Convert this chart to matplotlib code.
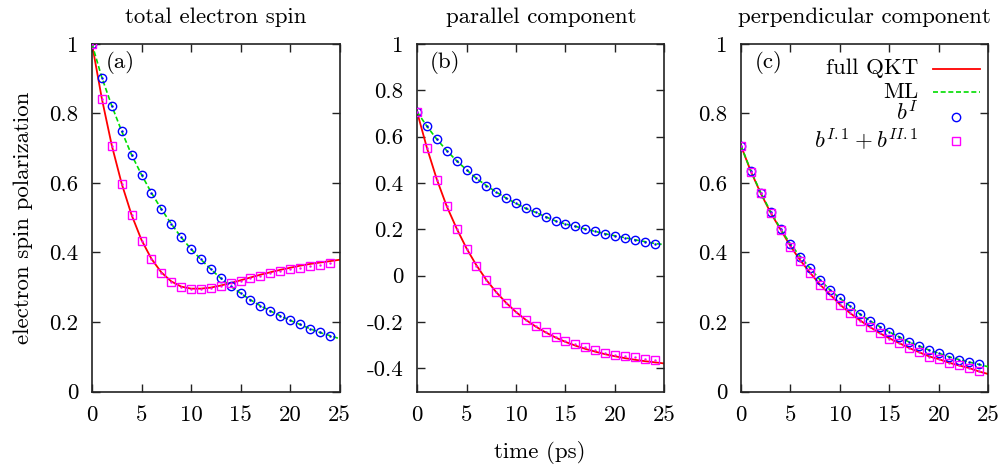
import numpy as np
import matplotlib
matplotlib.use("Agg")
import matplotlib.pyplot as plt

# time axis (ps)
t_line = list(range(0, 26))
t_pts = list(range(0, 25))

# panel (a): total electron spin
a_qkt = [1.0, 0.842, 0.708, 0.598, 0.508, 0.436, 0.382, 0.343, 0.317, 0.302, 0.296, 0.296, 0.299,
         0.305, 0.312, 0.320, 0.328, 0.336, 0.343, 0.350, 0.356, 0.362, 0.367, 0.371, 0.375, 0.379]
a_ml = [1.0, 0.903, 0.822, 0.749, 0.681, 0.624, 0.572, 0.525, 0.483, 0.444, 0.410, 0.380, 0.352,
        0.326, 0.303, 0.283, 0.264, 0.247, 0.232, 0.218, 0.205, 0.193, 0.181, 0.170, 0.161, 0.152]
a_bI = [1.0, 0.903, 0.822, 0.749, 0.681, 0.624, 0.572, 0.525, 0.483, 0.444, 0.410, 0.380, 0.352,
        0.326, 0.305, 0.284, 0.263, 0.246, 0.232, 0.217, 0.206, 0.193, 0.180, 0.170, 0.160]
a_bII = [1.0, 0.841, 0.707, 0.597, 0.507, 0.434, 0.380, 0.342, 0.316, 0.302, 0.295, 0.295, 0.298,
         0.304, 0.311, 0.319, 0.327, 0.333, 0.340, 0.347, 0.352, 0.356, 0.361, 0.365, 0.369]

# panel (b): parallel component
b_qkt = [0.708, 0.552, 0.416, 0.300, 0.204, 0.118, 0.045, -0.018, -0.071, -0.117, -0.157, -0.191,
         -0.220, -0.245, -0.267, -0.286, -0.302, -0.316, -0.328, -0.339, -0.348, -0.356, -0.363,
         -0.369, -0.374, -0.379]
b_ml = [0.708, 0.645, 0.589, 0.540, 0.496, 0.457, 0.420, 0.389, 0.361, 0.335, 0.312, 0.290, 0.273,
        0.254, 0.236, 0.223, 0.213, 0.201, 0.191, 0.181, 0.172, 0.164, 0.155, 0.147, 0.139, 0.134]
b_bI = [0.708, 0.645, 0.589, 0.540, 0.496, 0.457, 0.420, 0.389, 0.361, 0.335, 0.312, 0.290, 0.273,
        0.254, 0.234, 0.224, 0.213, 0.201, 0.191, 0.181, 0.172, 0.164, 0.155, 0.147, 0.138]
b_bII = [0.708, 0.550, 0.414, 0.299, 0.201, 0.116, 0.043, -0.020, -0.072, -0.118, -0.157, -0.190,
         -0.218, -0.243, -0.264, -0.282, -0.297, -0.310, -0.322, -0.333, -0.341, -0.348, -0.353,
         -0.359, -0.363]

# panel (c): perpendicular component
c_qkt = [0.707, 0.633, 0.570, 0.514, 0.466, 0.418, 0.377, 0.341, 0.307, 0.279, 0.250, 0.226, 0.205,
         0.186, 0.168, 0.153, 0.139, 0.125, 0.113, 0.101, 0.093, 0.083, 0.075, 0.068, 0.058, 0.050]
c_ml = [0.707, 0.635, 0.572, 0.517, 0.468, 0.424, 0.388, 0.354, 0.321, 0.292, 0.268, 0.246, 0.223,
        0.204, 0.187, 0.171, 0.157, 0.142, 0.131, 0.119, 0.110, 0.100, 0.092, 0.085, 0.078, 0.071]
c_bI = [0.707, 0.635, 0.572, 0.517, 0.468, 0.424, 0.388, 0.354, 0.321, 0.292, 0.268, 0.246, 0.223,
        0.204, 0.187, 0.171, 0.157, 0.142, 0.131, 0.119, 0.110, 0.100, 0.092, 0.085, 0.078]
c_bII = [0.707, 0.633, 0.570, 0.514, 0.466, 0.417, 0.376, 0.340, 0.306, 0.278, 0.249, 0.225, 0.204,
         0.185, 0.167, 0.152, 0.139, 0.124, 0.113, 0.100, 0.093, 0.083, 0.075, 0.068, 0.060]

titles = ["total electron spin", "parallel component", "perpendicular component"]
tags = ["(a)", "(b)", "(c)"]
xticks = [0, 5, 10, 15, 20, 25]
yticks_pos = [0, 0.2, 0.4, 0.6, 0.8, 1]
yticklabels_pos = ["0", "0.2", "0.4", "0.6", "0.8", "1"]
yticks_b = [-0.4, -0.2, 0, 0.2, 0.4, 0.6, 0.8, 1]
yticklabels_b = ["-0.4", "-0.2", "0", "0.2", "0.4", "0.6", "0.8", "1"]
legend_labels = ["full QKT", "ML", r"$b^{I}$", r"$b^{I.1}+b^{II.1}$"]

RED = "#ff0000"
GREEN = "#00dd00"
BLUE = "#0000ff"
MAG = "#ff00ff"

plt.rcParams["font.family"] = ["cmr10", "DejaVu Serif"]
plt.rcParams["mathtext.fontset"] = "cm"
plt.rcParams["axes.unicode_minus"] = False

fig = plt.figure(figsize=(10.04, 4.65), dpi=100)
lefts = [92 / 1004, 417 / 1004, 741 / 1004]
W, B, H = 247.5 / 1004, 73.5 / 465, 347.5 / 465

panels = [(a_qkt, a_ml, a_bI, a_bII), (b_qkt, b_ml, b_bI, b_bII), (c_qkt, c_ml, c_bI, c_bII)]
FS = 16.5

for i, (qkt, ml, bI, bII) in enumerate(panels):
    ax = fig.add_axes([lefts[i], B, W, H])
    ax.plot(t_line, qkt, color=RED, lw=1.3, zorder=2)
    ax.plot(t_line, ml, color=GREEN, lw=1.2, dashes=(3, 1.6), zorder=3)
    ax.plot(t_pts, bI, ls="none", marker="o", ms=6, mfc="none", mec=BLUE, mew=1.0, zorder=4)
    ax.plot(t_pts, bI, ls="none", marker=".", ms=1.5, color=BLUE, zorder=4)
    ax.plot(t_pts, bII, ls="none", marker="s", ms=5.5, mfc="none", mec=MAG, mew=1.0, zorder=5)
    ax.plot(t_pts, bII, ls="none", marker=".", ms=1.5, color=MAG, zorder=5)

    ax.set_xlim(0, 25)
    ax.set_xticks(xticks)
    ax.set_xticklabels([str(v) for v in xticks])
    if i == 1:
        ax.set_ylim(-0.5, 1)
        ax.set_yticks(yticks_b)
        ax.set_yticklabels(yticklabels_b)
    else:
        ax.set_ylim(0, 1)
        ax.set_yticks(yticks_pos)
        ax.set_yticklabels(yticklabels_pos)

    ax.tick_params(direction="in", length=6, width=1.0, top=True, right=True,
                   labelsize=FS, pad=10, color="#222222")
    for s in ax.spines.values():
        s.set_linewidth(1.2)
        s.set_color("#222222")
    ax.text(0.5, 1 + 27 / 347.5, titles[i], transform=ax.transAxes, fontsize=FS,
            ha="center", va="center")
    ax.text(0.113, 0.948, tags[i], transform=ax.transAxes, fontsize=FS,
            ha="center", va="center")

    if i == 2:
        # gnuplot-style key: right-aligned text, sample on the right
        text_y = [0.913, 0.844, 0.779, 0.700]
        mark_y = [0.928, 0.861, 0.791, 0.722]
        for lab, y in zip(legend_labels, text_y):
            ax.text(0.718, y, lab, transform=ax.transAxes, fontsize=FS, ha="right",
                    va="baseline")
        ax.plot([0.774, 0.964], [mark_y[0]] * 2, color=RED, lw=1.3, transform=ax.transAxes)
        ax.plot([0.774, 0.964], [mark_y[1]] * 2, color=GREEN, lw=1.2, dashes=(3, 1.6),
                transform=ax.transAxes)
        ax.plot([0.867], [mark_y[2]], marker="o", ms=6, mfc="none", mec=BLUE, mew=1.0,
                transform=ax.transAxes)
        ax.plot([0.867], [mark_y[3]], marker="s", ms=5.5, mfc="none", mec=MAG, mew=1.0,
                transform=ax.transAxes)

fig.text(23 / 1004, 1 - 217.7 / 465, "electron spin polarization", fontsize=FS,
         rotation=90, ha="center", va="center")
fig.text(540 / 1004, 1 - 452 / 465, "time (ps)", fontsize=FS, ha="center", va="center")

fig.savefig("out.png", dpi=100)
